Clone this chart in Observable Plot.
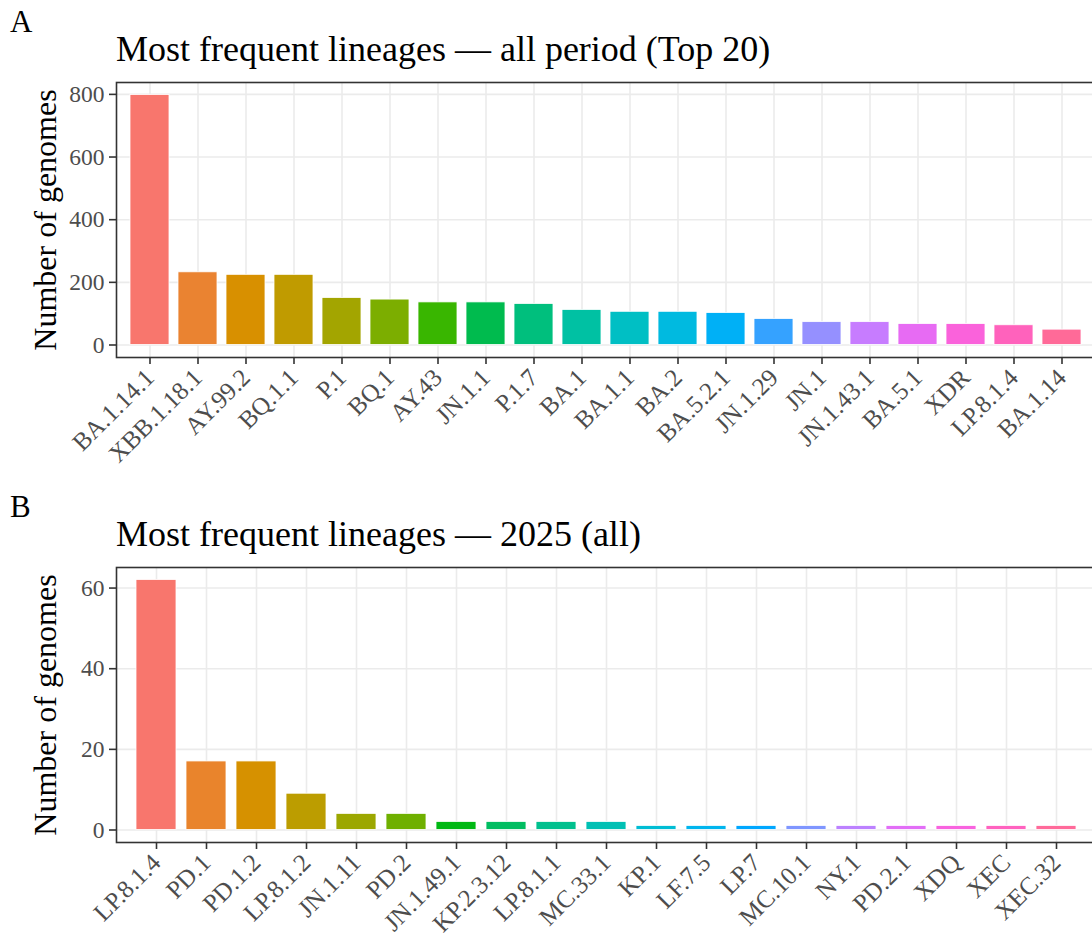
<!DOCTYPE html>
<html>
<head>
<meta charset="utf-8">
<script src="https://cdn.jsdelivr.net/npm/d3@7"></script>
<script src="https://cdn.jsdelivr.net/npm/@observablehq/plot@0.6"></script>
<style>
  html, body { margin: 0; padding: 0; background: #fff; width: 1092px; height: 936px; overflow: hidden; }
  body { position: relative; font-family: 'Liberation Serif', serif; color: #000; }
  .tag { position: absolute; font-size: 31px; line-height: 31px; }
  .title { position: absolute; font-size: 36px; line-height: 36px; white-space: nowrap; }
  .chart { position: absolute; left: 0; width: 1100px; }
  .chart svg { max-width: none !important; }
</style>
</head>
<body>
<div class="tag" style="left:10px; top:6px;">A</div>
<div class="title" style="left:116px; top:31px;">Most frequent lineages — all period (Top 20)</div>
<div class="chart" id="chartA" style="top:72px;"></div>
<div class="tag" style="left:10px; top:491px;">B</div>
<div class="title" style="left:116px; top:516px;">Most frequent lineages — 2025 (all)</div>
<div class="chart" id="chartB" style="top:557px;"></div>
<script>
// Panel A: all period, top 20
const lineagesA = ["BA.1.14.1","XBB.1.18.1","AY.99.2","BQ.1.1","P.1","BQ.1","AY.43","JN.1.1","P.1.7","BA.1","BA.1.1","BA.2","BA.5.2.1","JN.1.29","JN.1","JN.1.43.1","BA.5.1","XDR","LP.8.1.4","BA.1.14"];
const genomesA = [798,232,224,224,150,145,136,136,131,112,106,106,102,83,73,73,67,67,63,49];
const yTicksA = [0,200,400,600,800];

// Panel B: 2025 (all)
const lineagesB = ["LP.8.1.4","PD.1","PD.1.2","LP.8.1.2","JN.1.11","PD.2","JN.1.49.1","KP.2.3.12","LP.8.1.1","MC.33.1","KP.1","LF.7.5","LP.7","MC.10.1","NY.1","PD.2.1","XDQ","XEC","XEC.32"];
const genomesB = [62,17,17,9,4,4,2,2,2,2,1,1,1,1,1,1,1,1,1];
const yTicksB = [0,20,40,60];

const yTitle = "Number of genomes";

// ggplot2 default discrete hue palette (hcl with c=100, l=65)
function hclToHex(h, c, l) {
  const WY = 100, Wu = 0.1978398, Wv = 0.4683363;
  const hr = h * Math.PI / 180;
  const U = c * Math.cos(hr), V = c * Math.sin(hr);
  const Y = WY * (l > 7.999592 ? Math.pow((l + 16) / 116, 3) : l / 903.3);
  const u = U / (13 * l) + Wu, v = V / (13 * l) + Wv;
  const X = 9 * Y * u / (4 * v);
  const Z = -X / 3 - 5 * Y + 3 * Y / v;
  const g = t => t > 0.00304 ? 1.055 * Math.pow(t, 1 / 2.4) - 0.055 : 12.92 * t;
  const R = g((3.240479 * X - 1.537150 * Y - 0.498535 * Z) / WY);
  const G = g((-0.969256 * X + 1.875992 * Y + 0.041556 * Z) / WY);
  const B = g((0.055648 * X - 0.204043 * Y + 1.057311 * Z) / WY);
  const to = t => Math.round(Math.max(0, Math.min(1, t)) * 255).toString(16).padStart(2, "0");
  return "#" + to(R) + to(G) + to(B);
}
function huePal(n) {
  const out = [];
  for (let i = 0; i < n; i++) out.push(hclToHex((15 + i * 360 / n) % 360, 100, 65));
  return out;
}

function panel({cats, vals, ticks, pi, height, marginBottom}) {
  const data = cats.map((c, i) => ({lineage: c, n: vals[i]}));
  const max = d3.max(vals);
  return Plot.plot({
    width: 1100, height, marginLeft: 116, marginRight: 5, marginTop: 10, marginBottom,
    style: {fontFamily: "'Liberation Serif', serif", background: "white", overflow: "visible", maxWidth: "none"},
    x: {type: "band", domain: cats, paddingInner: pi, paddingOuter: 0.6 - (1 - pi) / 2, align: 0.5, label: null},
    y: {domain: [-0.05 * max, 1.05 * max], label: null},
    color: {domain: cats, range: huePal(cats.length)},
    marks: [
      Plot.gridY(ticks, {stroke: "#EBEBEB", strokeOpacity: 1, strokeWidth: 1.6}),
      Plot.gridX({stroke: "#EBEBEB", strokeOpacity: 1, strokeWidth: 1.6}),
      Plot.barY(data, {x: "lineage", y: "n", fill: "lineage", stroke: "white", strokeWidth: 0.8}),
      Plot.frame({stroke: "#333333", strokeWidth: 1.6}),
      Plot.axisY(ticks, {tickSize: 7, tickPadding: 5, fontSize: 23.5, fill: "#4D4D4D", stroke: "#333333", strokeWidth: 1.6, label: null}),
      Plot.axisX({tickSize: 7, tickPadding: 9, tickRotate: -45, fontSize: 25, fill: "#4D4D4D", stroke: "#333333", strokeWidth: 1.6, label: null}),
      Plot.text([yTitle], {text: d => d, frameAnchor: "left", textAnchor: "middle", lineAnchor: "middle", rotate: -90, dx: -71, fontSize: 32, fill: "black"})
    ]
  });
}

document.getElementById("chartA").append(panel({cats: lineagesA, vals: genomesA, ticks: yTicksA, pi: 0.18, height: 395, marginBottom: 110}));
document.getElementById("chartB").append(panel({cats: lineagesB, vals: genomesB, ticks: yTicksB, pi: 0.2, height: 379, marginBottom: 94}));
</script>
</body>
</html>
